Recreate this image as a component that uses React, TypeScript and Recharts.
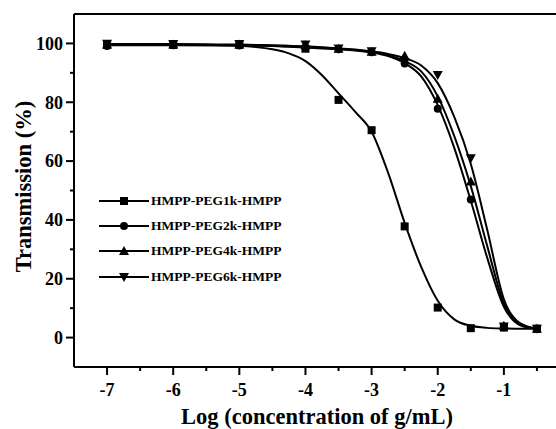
import React from 'react';
import { ComposedChart, Line, Scatter, XAxis, YAxis, ReferenceLine } from 'recharts';

const xTicks = [-7, -6.5, -6, -5.5, -5, -4.5, -4, -3.5, -3, -2.5, -2, -1.5, -1, -0.5];
const yTicks = [0, 10, 20, 30, 40, 50, 60, 70, 80, 90, 100];

// measured points
const concentrations = [-7, -6, -5, -4, -3.5, -3, -2.5, -2, -1.5, -1, -0.5];
const peg1kPoints = [99.5, 99.5, 99.5, 98.2, 80.8, 70.5, 37.8, 10.2, 3.2, 3.4, 3.0];
const peg2kPoints = [99.1, 99.4, 99.3, 98.6, 98.0, 97.0, 93.2, 77.8, 46.9, 3.6, 3.0];
const peg4kPoints = [99.6, 99.6, 99.6, 99.4, 98.2, 97.2, 95.8, 81.2, 53.1, 4.0, 3.0];
const peg6kPoints = [99.9, 99.8, 99.8, 99.6, 98.3, 97.3, 93.5, 89.3, 61.0, 3.8, 3.0];

// fitted curves
const fitX = [-7, -6.5, -6, -5.5, -5, -4.75, -4.5, -4.25, -4, -3.75, -3.5, -3.25, -3, -2.75, -2.5, -2.25, -2, -1.75, -1.5, -1.25, -1, -0.75, -0.5];
const peg1kFit = [99.5, 99.5, 99.5, 99.4, 99.2, 98.8, 98.0, 96.6, 94.0, 89.2, 83.0, 76.8, 70.0, 56.0, 39.0, 24.0, 12.5, 6.2, 4.0, 3.3, 3.1, 3.0, 3.0];
const peg2kFit = [99.4, 99.4, 99.4, 99.4, 99.3, 99.2, 99.1, 98.9, 98.6, 98.3, 98.0, 97.6, 96.9, 95.7, 93.3, 88.8, 79.0, 64.5, 46.5, 27.0, 10.5, 4.2, 3.0];
const peg4kFit = [99.6, 99.6, 99.6, 99.5, 99.4, 99.3, 99.2, 99.0, 98.8, 98.5, 98.2, 97.8, 97.1, 96.0, 94.0, 90.5, 82.0, 68.5, 51.5, 31.0, 11.5, 4.4, 3.0];
const peg6kFit = [99.8, 99.8, 99.8, 99.7, 99.6, 99.5, 99.4, 99.2, 99.0, 98.7, 98.3, 97.9, 97.3, 96.4, 95.0, 92.5, 86.5, 75.0, 59.0, 36.5, 13.0, 4.8, 3.0];

const seriesNames = ['HMPP-PEG1k-HMPP', 'HMPP-PEG2k-HMPP', 'HMPP-PEG4k-HMPP', 'HMPP-PEG6k-HMPP'];
const markerKinds = ['square', 'circle', 'triangle', 'down'];

const FONT = '"Liberation Serif", "Times New Roman", serif';

const toRows = (xs: number[], ys: number[]) => xs.map((x, i) => ({ x, y: ys[i] }));

const series = [
  { name: seriesNames[0], kind: markerKinds[0], points: toRows(concentrations, peg1kPoints), fit: toRows(fitX, peg1kFit) },
  { name: seriesNames[1], kind: markerKinds[1], points: toRows(concentrations, peg2kPoints), fit: toRows(fitX, peg2kFit) },
  { name: seriesNames[2], kind: markerKinds[2], points: toRows(concentrations, peg4kPoints), fit: toRows(fitX, peg4kFit) },
  { name: seriesNames[3], kind: markerKinds[3], points: toRows(concentrations, peg6kPoints), fit: toRows(fitX, peg6kFit) },
];

const Marker = ({ kind, cx, cy }: { kind: string; cx: number; cy: number }) => {
  if (kind === 'square') return <rect x={cx - 4} y={cy - 4} width={8} height={8} fill="#000" />;
  if (kind === 'circle') return <circle cx={cx} cy={cy} r={4} fill="#000" />;
  if (kind === 'triangle') return <path d={`M${cx},${cy - 5} L${cx + 5},${cy + 4} L${cx - 5},${cy + 4} Z`} fill="#000" />;
  return <path d={`M${cx},${cy + 5} L${cx + 5},${cy - 4} L${cx - 5},${cy - 4} Z`} fill="#000" />;
};

const XTick = (props: any) => {
  const { x, y, payload } = props;
  const major = Number.isInteger(payload.value);
  return (
    <g>
      <line x1={x} x2={x} y1={y} y2={y + (major ? 8 : 4)} stroke="#000" strokeWidth={2} />
      {major && (
        <text x={x} y={y + 29} textAnchor="middle" fontFamily={FONT} fontWeight="bold" fontSize={18} fill="#000">
          {`${payload.value}`}
        </text>
      )}
    </g>
  );
};

const YTick = (props: any) => {
  const { x, y, payload } = props;
  const major = payload.value % 20 === 0;
  return (
    <g>
      <line x1={x - (major ? 8 : 4)} x2={x} y1={y} y2={y} stroke="#000" strokeWidth={2} />
      {major && (
        <text x={x - 11} y={y} dy="0.35em" textAnchor="end" fontFamily={FONT} fontWeight="bold" fontSize={18} fill="#000">
          {payload.value}
        </text>
      )}
    </g>
  );
};

// legend sits inside the plot, drawn as a plain overlay so it takes no chart space
const ChartLegend = () => (
  <div style={{ position: 'absolute', left: 98, top: 188, fontFamily: FONT, fontWeight: 'bold', fontSize: 13.5, color: '#000' }}>
    {series.map((s) => (
      <div key={s.name} style={{ height: 25.3, display: 'flex', alignItems: 'center' }}>
        <svg width={53} height={14} style={{ display: 'block' }}>
          <line x1={1} x2={51} y1={7} y2={7} stroke="#000" strokeWidth={2.2} />
          <Marker kind={s.kind} cx={26} cy={7} />
        </svg>
        <span style={{ whiteSpace: 'nowrap' }}>{s.name}</span>
      </div>
    ))}
  </div>
);

export default function App() {
  return (
    <div style={{ position: 'absolute', left: 0, top: 0, width: 556, height: 429, overflow: 'hidden', background: '#fff' }}>
      <ComposedChart width={585} height={429} margin={{ top: 14, right: 15, left: 14, bottom: 0 }}>
        <XAxis
          dataKey="x"
          type="number"
          domain={[-7.5, 0]}
          ticks={xTicks}
          allowDataOverflow
          axisLine={{ stroke: '#000', strokeWidth: 2 }}
          tickLine={false}
          tickSize={0}
          tickMargin={0}
          tick={<XTick />}
          height={62}
          interval={0}
          label={{
            value: 'Log (concentration of g/mL)',
            position: 'insideBottom',
            offset: 5,
            dx: -5,
            style: { fontFamily: FONT, fontWeight: 'bold', fontSize: 22.5, fill: '#000' },
          }}
        />
        <YAxis
          type="number"
          domain={[-10, 110]}
          ticks={yTicks}
          allowDataOverflow
          axisLine={{ stroke: '#000', strokeWidth: 2 }}
          tickLine={false}
          tickSize={0}
          tickMargin={0}
          tick={<YTick />}
          width={60}
          interval={0}
          label={{
            value: 'Transmission (%)',
            angle: -90,
            position: 'center',
            dx: -21,
            dy: -4,
            style: { fontFamily: FONT, fontWeight: 'bold', fontSize: 22.5, fill: '#000', textAnchor: 'middle' },
          }}
        />
        <ReferenceLine y={110} stroke="#000" strokeWidth={2} />
        <ReferenceLine x={0} stroke="#000" strokeWidth={2} />
        {series.map((s) => (
          <Line
            key={`fit-${s.name}`}
            data={s.fit}
            dataKey="y"
            name={s.name}
            type="monotone"
            stroke="#000"
            strokeWidth={2}
            dot={false}
            activeDot={false}
            isAnimationActive={false}
          />
        ))}
        {series.map((s) => (
          <Scatter
            key={`pts-${s.name}`}
            data={s.points}
            dataKey="y"
            name={s.name}
            legendType="none"
            shape={(p: any) => <Marker kind={s.kind} cx={p.cx} cy={p.cy} />}
            isAnimationActive={false}
          />
        ))}
      </ComposedChart>
      <ChartLegend />
    </div>
  );
}
